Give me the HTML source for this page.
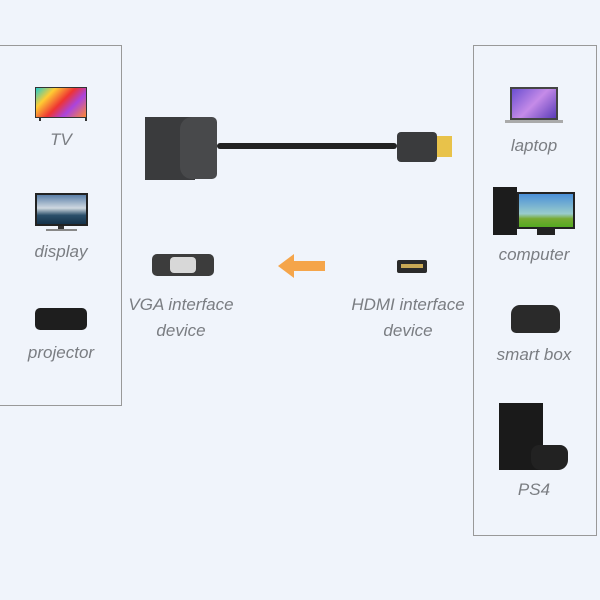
<!DOCTYPE html>
<html><head><style>
body{margin:0;width:600px;height:600px;background:#f0f4fb;position:relative;overflow:hidden;font-family:"Liberation Sans",sans-serif}
.a{position:absolute}
.t{position:absolute;font-style:italic;color:#7a7d82;font-size:17px;text-align:center;width:160px;line-height:26px}
</style></head><body>
<div class="a" style="left:0;top:45px;width:121px;height:359px;border:1px solid #999;border-left:none"></div>
<div class="a" style="left:473px;top:45px;width:122px;height:489px;border:1px solid #999"></div>

<!-- TV -->
<div class="a" style="left:35px;top:87px;width:52px;height:31px;background:linear-gradient(135deg,#2cc 0%,#fc3 25%,#e33 50%,#a4d 70%,#f83 100%);border:1px solid #333;box-sizing:border-box"></div>
<div class="a" style="left:39px;top:118px;width:44px;height:3px;border-left:2px solid #333;border-right:2px solid #333"></div>
<div class="t" style="left:-19px;top:127px">TV</div>
<!-- display -->
<div class="a" style="left:35px;top:193px;width:53px;height:33px;background:linear-gradient(180deg,#5a7fa8,#cfd8e0 45%,#2b4f6a 70%,#14324a);border:2px solid #222;box-sizing:border-box"></div>
<div class="a" style="left:58px;top:226px;width:6px;height:4px;background:#333"></div>
<div class="a" style="left:46px;top:229px;width:31px;height:2px;background:#888"></div>
<div class="t" style="left:-19px;top:239px">display</div>
<!-- projector -->
<div class="a" style="left:35px;top:308px;width:52px;height:22px;background:#1e1e1e;border-radius:5px"></div>
<div class="t" style="left:-19px;top:340px">projector</div>

<!-- adapter -->
<div class="a" style="left:145px;top:117px;width:50px;height:63px;background:#3a3b3d"></div>
<div class="a" style="left:180px;top:117px;width:37px;height:62px;background:#48494b;border-radius:12px 5px 5px 12px"></div>
<div class="a" style="left:217px;top:143px;width:180px;height:6px;background:#222;border-radius:3px"></div>
<div class="a" style="left:397px;top:132px;width:40px;height:30px;background:#3a3b3d;border-radius:4px"></div>
<div class="a" style="left:437px;top:136px;width:15px;height:21px;background:#e8c24a"></div>

<!-- VGA -->
<div class="a" style="left:152px;top:254px;width:62px;height:22px;background:#3c3c3c;border-radius:5px"></div>
<div class="a" style="left:170px;top:257px;width:26px;height:16px;background:#d8d8d8;border-radius:4px"></div>
<!-- arrow -->
<svg class="a" style="left:278px;top:254px" width="50" height="24"><polygon points="0,12 16,0 16,7 47,7 47,17 16,17 16,24" fill="#f5a54a"/></svg>
<!-- HDMI port -->
<div class="a" style="left:397px;top:260px;width:30px;height:13px;background:#2a2a2a;border-radius:2px"></div>
<div class="a" style="left:401px;top:264px;width:22px;height:4px;background:#c9a955"></div>
<div class="t" style="left:101px;top:292px">VGA interface<br>device</div>
<div class="t" style="left:328px;top:292px">HDMI interface<br>device</div>

<!-- laptop -->
<div class="a" style="left:510px;top:87px;width:48px;height:33px;background:linear-gradient(135deg,#6a4fd0,#c58be8 50%,#5a3cb8);border:2px solid #444;box-sizing:border-box"></div>
<div class="a" style="left:505px;top:120px;width:58px;height:3px;background:#aaa"></div>
<div class="t" style="left:454px;top:133px">laptop</div>
<!-- computer -->
<div class="a" style="left:493px;top:187px;width:24px;height:48px;background:#1c1c1c"></div>
<div class="a" style="left:517px;top:192px;width:58px;height:37px;background:linear-gradient(180deg,#4a8fd8,#9cc 60%,#7a3 75%,#5a2);border:2px solid #222;box-sizing:border-box"></div>
<div class="a" style="left:537px;top:229px;width:18px;height:6px;background:#222"></div>
<div class="t" style="left:454px;top:242px">computer</div>
<!-- smart box -->
<div class="a" style="left:511px;top:305px;width:49px;height:28px;background:#2a2a2a;border-radius:9px 9px 5px 5px"></div>
<div class="t" style="left:454px;top:342px">smart box</div>
<!-- PS4 -->
<div class="a" style="left:499px;top:403px;width:44px;height:67px;background:#1a1a1a"></div>
<div class="a" style="left:531px;top:445px;width:37px;height:25px;background:#222;border-radius:8px 8px 10px 10px"></div>
<div class="t" style="left:454px;top:477px">PS4</div>
</body></html>
